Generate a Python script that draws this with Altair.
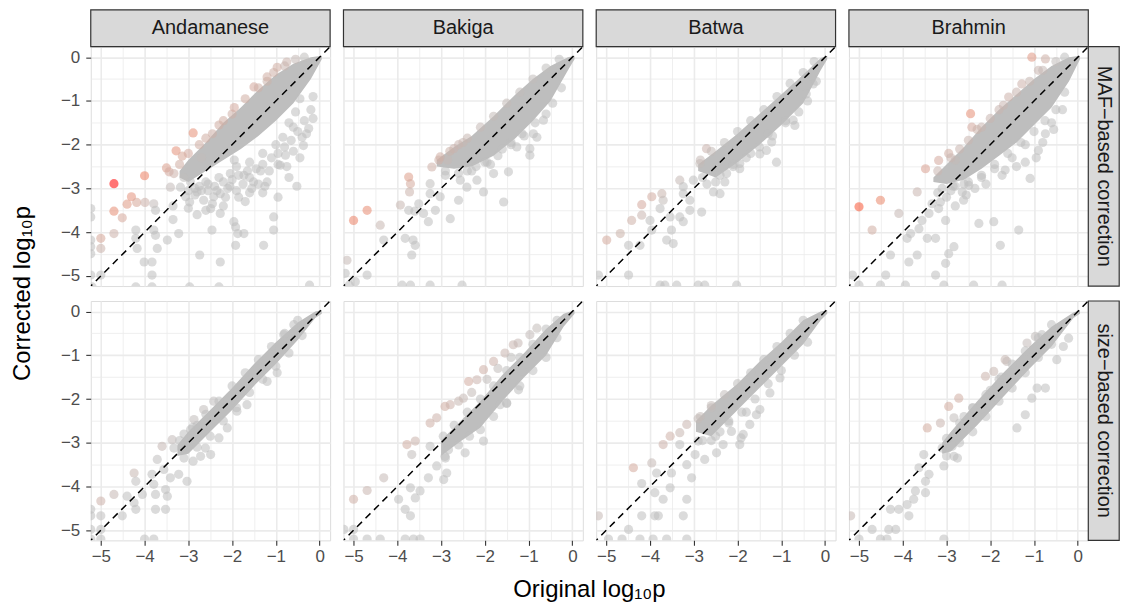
import altair as alt
import pandas as pd

populations = ["Andamanese", "Bakiga", "Batwa", "Brahmin"]
corrections = ["MAF−based correction", "size−based correction"]
x_title = "Original log₁₀p"
y_title = "Corrected log₁₀p"
tick_values = [-5.0, -4.5, -4.0, -3.5, -3.0, -2.5, -2.0, -1.5, -1.0, -0.5, 0.0]
axis_domain = [-5.23, 0.24]
diag_ends = [-5.5, 0.5]

# dense core of each cloud: (original, corrected low, corrected high)
core_maf_andamanese = [(-3.2, -2.75, -2.6), (-3.0, -2.85, -2.35), (-2.6, -2.6, -1.95), (-2.2, -2.35, -1.5),
                       (-1.8, -2.1, -1.15), (-1.4, -1.8, -0.75), (-1.0, -1.45, -0.4), (-0.6, -1.05, -0.15),
                       (-0.2, -0.5, 0.0), (0.05, -0.05, 0.03)]
core_maf_bakiga = [(-3.1, -2.5, -2.35), (-2.7, -2.55, -2.05), (-2.3, -2.5, -1.8), (-1.8, -2.25, -1.35),
                   (-1.3, -1.85, -0.85), (-0.9, -1.45, -0.5), (-0.5, -1.0, -0.2), (-0.1, -0.3, 0.0),
                   (0.05, -0.05, 0.03)]
core_maf_batwa = [(-2.9, -2.6, -2.45), (-2.5, -2.75, -2.15), (-2.0, -2.4, -1.75), (-1.5, -2.0, -1.3),
                  (-1.0, -1.55, -0.85), (-0.5, -1.05, -0.4), (-0.1, -0.3, -0.02), (0.05, -0.05, 0.03)]
core_maf_brahmin = [(-3.3, -2.85, -2.75), (-3.0, -2.9, -2.45), (-2.6, -2.8, -2.05), (-2.2, -2.55, -1.6),
                    (-1.8, -2.25, -1.2), (-1.4, -1.95, -0.85), (-1.0, -1.55, -0.5), (-0.6, -1.15, -0.2),
                    (-0.2, -0.55, 0.0), (0.05, -0.05, 0.03)]
core_size_andamanese = [(-3.25, -3.3, -3.05), (-3.0, -3.25, -2.75), (-2.5, -2.75, -2.25), (-2.0, -2.25, -1.75),
                        (-1.5, -1.7, -1.2), (-1.0, -1.2, -0.7), (-0.5, -0.65, -0.25), (-0.1, -0.15, 0.0),
                        (0.05, -0.05, 0.03)]
core_size_bakiga = [(-3.0, -3.3, -2.95), (-2.6, -3.0, -2.55), (-2.1, -2.65, -2.05), (-1.6, -2.05, -1.45),
                    (-1.1, -1.5, -0.95), (-0.6, -1.0, -0.4), (-0.2, -0.35, -0.05), (0.05, -0.05, 0.03)]
core_size_batwa = [(-2.95, -2.75, -2.5), (-2.6, -2.85, -2.15), (-2.0, -2.25, -1.65), (-1.5, -1.75, -1.15),
                   (-1.0, -1.25, -0.7), (-0.5, -0.75, -0.2), (-0.1, -0.2, 0.0), (0.05, -0.05, 0.03)]
core_size_brahmin = [(-3.1, -3.25, -3.0), (-2.9, -3.2, -2.75), (-2.3, -2.6, -2.05), (-1.7, -1.95, -1.4),
                     (-1.1, -1.3, -0.8), (-0.6, -0.8, -0.35), (-0.1, -0.15, -0.02), (0.05, -0.05, 0.03)]

# individual points: (original, corrected)
pts_maf_andamanese = [
    (-4.70, -2.89), (-4.00, -2.71), (-2.89, -1.73), (-3.28, -2.14), (-3.14, -2.26), (-3.50, -2.53),
    (-3.44, -2.62), (-3.33, -2.66), (-4.30, -3.19), (-4.40, -3.36), (-4.18, -3.32), (-3.99, -3.32),
    (-4.70, -3.52), (-4.51, -3.67), (-4.70, -4.03), (-5.00, -4.14), (-5.00, -4.37), (-5.23, -3.46),
    (-5.23, -3.65), (-5.23, -4.18), (-5.23, -4.33), (-5.23, -4.49), (-5.23, -4.98), (-5.00, -4.98),
    (-5.20, -5.25), (-4.20, -3.95), (-4.20, -4.14), (-4.17, -4.37), (-4.01, -4.68), (-3.83, -4.68),
    (-3.83, -4.98), (-3.79, -3.35), (-3.75, -3.50), (-3.79, -3.95), (-3.75, -4.07), (-3.71, -4.37),
    (-3.48, -4.18), (-3.35, -3.71), (-3.22, -4.03), (-2.74, -4.52), (-2.27, -4.68), (-2.46, -3.95),
    (-2.49, -3.46), (-2.27, -3.57), (-1.96, -3.76), (-1.92, -3.88), (-1.92, -4.30), (-1.87, -4.03),
    (-1.73, -4.03), (-1.28, -4.30), (-1.05, -3.65), (-1.05, -3.95), (-0.52, -2.95), (-0.90, -2.47),
    (-0.78, -2.24), (-0.37, -2.02), (-0.25, -1.63), (-2.97, -5.25), (-2.30, -5.25), (-4.20, -5.25),
    (-3.83, -5.25), (-0.23, -5.21), (-2.97, -3.31), (-2.80, -3.08), (-2.65, -3.27), (-2.42, -3.19),
    (-2.27, -3.12), (-2.10, -3.00), (-1.51, -2.85), (-1.20, -2.85), (-1.73, -2.70), (-2.04, -2.66),
    (-3.18, -2.97), (-3.06, -3.19), (-3.41, -2.97), (-0.84, -1.83), (-0.60, -1.60), (-0.40, -1.83),
    (-0.97, -0.23), (-1.50, -0.68), (-0.75, -0.11), (-2.60, -2.85), (-2.40, -2.95), (-1.90, -2.50),
    (-1.60, -2.40), (-1.30, -2.20), (-1.00, -2.00), (-0.70, -1.50), (-2.70, -2.30), (-2.30, -1.55),
    (-2.00, -1.30), (-1.20, -0.55), (-0.55, -1.25), (-0.45, -0.95),
    (-3.00, -3.05), (-2.85, -3.00), (-2.75, -2.95), (-2.55, -3.05), (-2.35, -3.05), (-2.20, -2.85),
    (-2.00, -2.80), (-1.85, -2.70), (-1.65, -2.60), (-1.45, -2.55), (-1.30, -2.45), (-1.10, -2.30),
    (-0.95, -2.20), (-0.80, -2.05), (-0.65, -1.90), (-0.50, -1.70), (-0.35, -1.45), (-0.20, -1.20),
    (-0.15, -0.90), (-1.60, -3.10), (-1.40, -2.90), (-1.85, -3.20), (-2.60, -3.50), (-1.95, -2.35),
    (-3.20, -2.45), (-3.00, -2.20), (-2.75, -2.00), (-2.60, -1.85), (-2.45, -1.75), (-2.20, -1.45),
    (-1.95, -1.15), (-1.70, -0.95), (-1.40, -0.70), (-1.20, -0.45), (-1.05, -0.35), (-0.80, -0.20),
    (-0.55, -0.05), (-0.35, 0.00),
    (-3.10, -2.75), (-2.95, -2.85), (-2.85, -3.15), (-2.70, -3.05), (-2.55, -2.90), (-2.45, -3.35),
    (-2.30, -2.75), (-2.15, -3.20), (-2.05, -2.95), (-1.90, -3.05), (-1.75, -2.90), (-1.60, -2.75),
    (-1.55, -3.00), (-1.35, -2.60), (-1.25, -2.95), (-1.15, -2.60), (-0.95, -2.45), (-0.75, -2.50),
    (-0.60, -2.15), (-0.45, -2.30), (-0.30, -1.75), (-0.15, -1.40), (-3.35, -3.40), (-3.00, -3.45),
    (-2.80, -3.60), (-2.20, -3.40), (-1.70, -3.30), (-1.30, -3.10), (-0.95, -3.20), (-0.70, -2.75),
]
pts_maf_bakiga = [
    (-5.00, -3.73), (-4.69, -3.50), (-4.39, -3.84), (-4.31, -4.18), (-3.93, -3.38), (-3.74, -2.74),
    (-3.70, -2.89), (-3.72, -3.08), (-3.74, -3.50), (-3.60, -3.52), (-3.82, -4.14), (-3.64, -4.18),
    (-3.59, -4.30), (-3.67, -4.52), (-3.51, -3.35), (-3.40, -3.57), (-3.29, -3.76), (-3.25, -3.12),
    (-3.25, -2.89), (-3.02, -3.19), (-3.13, -3.50), (-2.79, -3.69), (-3.21, -2.51), (-3.02, -2.28),
    (-2.71, -2.09), (-2.56, -2.81), (-2.60, -3.27), (-2.41, -2.97), (-2.18, -2.81), (-2.03, -3.08),
    (-1.57, -3.31), (-1.87, -2.45), (-1.46, -2.62), (-1.80, -2.66), (-1.27, -2.05), (-0.97, -2.09),
    (-0.97, -2.24), (-0.81, -1.83), (-0.66, -1.44), (-0.89, -1.75), (-5.15, -4.64), (-5.19, -4.94),
    (-4.69, -4.98), (-3.89, -5.21), (-3.70, -5.21), (-3.25, -5.21), (-2.52, -5.21), (-5.10, -5.21),
    (-4.96, -5.13), (-2.90, -2.70), (-2.40, -2.60), (-2.20, -2.50), (-1.95, -2.40), (-1.60, -2.10),
    (-1.40, -1.95), (-1.10, -1.80), (-2.85, -2.35), (-2.50, -1.95),
    (-3.05, -2.35), (-2.80, -2.15), (-2.60, -2.00), (-2.40, -1.85), (-2.10, -1.60), (-1.80, -1.35),
    (-1.50, -1.05), (-1.20, -0.80), (-0.90, -0.50), (-0.60, -0.25), (-0.30, -0.05), (-2.90, -2.60),
    (-2.60, -2.65), (-2.30, -2.60), (-2.00, -2.40), (-1.70, -2.25), (-1.40, -2.00), (-1.15, -1.75),
    (-0.85, -1.50), (-0.60, -1.30), (-0.45, -1.05), (-0.25, -0.70),
]
pts_maf_batwa = [
    (-4.99, -4.18), (-4.68, -4.03), (-4.42, -3.73), (-4.19, -3.37), (-4.19, -3.61), (-3.96, -3.19),
    (-3.73, -3.12), (-3.70, -3.27), (-4.49, -4.30), (-4.49, -4.98), (-4.23, -4.30), (-3.96, -3.95),
    (-4.00, -3.73), (-3.77, -3.46), (-3.62, -4.18), (-3.47, -4.26), (-3.51, -3.95), (-3.54, -3.65),
    (-3.32, -3.65), (-3.24, -3.76), (-3.09, -3.50), (-2.82, -3.54), (-3.09, -3.27), (-3.24, -3.12),
    (-3.01, -2.81), (-3.32, -2.81), (-3.24, -2.96), (-2.71, -2.09), (-2.86, -2.43), (-2.40, -3.12),
    (-2.55, -3.08), (-1.95, -2.55), (-1.95, -2.43), (-2.25, -2.66), (-2.29, -2.85), (-1.49, -2.21),
    (-1.11, -2.40), (-1.22, -1.94), (-1.34, -2.13), (-0.73, -1.44), (-0.69, -1.56), (-0.43, -0.84),
    (-0.27, -0.61), (-5.18, -4.98), (-3.77, -5.21), (-3.66, -5.21), (-3.39, -5.21), (-2.90, -5.21),
    (-2.75, -5.21), (-2.02, -5.21), (-2.70, -2.90), (-2.50, -2.85), (-2.10, -2.45), (-1.70, -2.20),
    (-1.30, -1.75), (-0.90, -1.45),
    (-2.85, -2.35), (-2.60, -2.15), (-2.30, -1.95), (-2.00, -1.70), (-1.70, -1.45), (-1.40, -1.20),
    (-1.10, -0.90), (-0.80, -0.60), (-0.50, -0.35), (-0.25, -0.10), (-2.80, -2.75), (-2.40, -2.70),
    (-2.10, -2.50), (-1.80, -2.30), (-1.50, -2.05), (-1.20, -1.80), (-0.90, -1.50), (-0.60, -1.25),
    (-0.40, -1.00), (-0.20, -0.55),
]
pts_maf_brahmin = [
    (-5.00, -3.42), (-4.51, -3.27), (-4.70, -3.95), (-4.09, -3.57), (-3.90, -4.14), (-3.82, -4.03),
    (-4.28, -4.52), (-3.86, -4.68), (-3.67, -4.52), (-3.63, -3.92), (-3.56, -3.73), (-3.44, -4.14),
    (-3.25, -4.14), (-3.40, -3.57), (-3.33, -3.35), (-3.14, -3.31), (-3.18, -3.46), (-3.02, -3.73),
    (-2.95, -4.49), (-2.83, -4.33), (-3.02, -4.71), (-3.25, -4.98), (-4.39, -4.98), (-3.67, -3.08),
    (-3.48, -2.55), (-3.18, -2.36), (-2.95, -2.20), (-2.45, -1.29), (-2.42, -1.60), (-2.61, -3.27),
    (-2.64, -3.08), (-2.49, -2.93), (-2.26, -3.80), (-1.92, -3.76), (-1.77, -4.30), (-1.73, -2.70),
    (-1.66, -2.58), (-1.35, -3.95), (-1.09, -2.77), (-0.90, -2.13), (-0.74, -1.75), (-1.58, -0.91),
    (-1.28, -0.61), (-1.05, 0.00), (-0.90, -0.30), (-0.74, -0.04), (-5.15, -4.98), (-5.00, -5.21),
    (-4.51, -5.21), (-3.94, -5.21), (-3.06, -5.21), (-2.38, -5.21), (-1.73, -5.21), (-2.85, -2.95),
    (-2.60, -2.90), (-2.20, -2.75), (-1.90, -2.55), (-1.50, -2.30), (-1.20, -2.00), (-2.80, -2.35),
    (-2.20, -1.60), (-1.80, -1.20), (-0.60, -1.50),
    (-3.20, -2.60), (-2.90, -2.30), (-2.70, -2.10), (-2.50, -1.90), (-2.30, -1.65), (-2.00, -1.40),
    (-1.70, -1.10), (-1.40, -0.80), (-1.10, -0.55), (-0.80, -0.30), (-0.50, -0.10), (-0.30, 0.00),
    (-3.10, -3.00), (-2.80, -2.95), (-2.50, -2.85), (-2.20, -2.70), (-1.90, -2.45), (-1.60, -2.20),
    (-1.30, -1.95), (-1.00, -1.70), (-0.75, -1.45), (-0.50, -1.20), (-0.30, -0.80),
    (-3.20, -3.10), (-3.00, -3.20), (-2.80, -3.40), (-2.90, -3.05), (-2.55, -3.15), (-2.35, -3.00),
    (-2.10, -2.90), (-1.40, -2.50), (-1.20, -2.40), (-0.95, -2.30), (-0.80, -1.95), (-0.55, -1.65),
    (-0.35, -1.20),
]
pts_size_andamanese = [
    (-5.23, -4.52), (-5.23, -4.67), (-5.23, -4.98), (-5.00, -4.33), (-5.00, -4.67), (-5.00, -4.98),
    (-4.70, -4.18), (-4.51, -4.67), (-4.40, -4.22), (-4.24, -4.37), (-4.20, -4.52), (-4.24, -3.69),
    (-4.20, -3.88), (-4.05, -4.18), (-3.83, -3.72), (-3.79, -3.95), (-3.75, -4.18), (-3.75, -4.52),
    (-3.52, -4.52), (-3.52, -4.07), (-3.48, -4.22), (-3.71, -3.38), (-3.56, -3.61), (-3.60, -3.08),
    (-3.37, -2.93), (-3.33, -3.12), (-3.22, -3.72), (-3.41, -3.80), (-3.03, -3.88), (-2.89, -3.42),
    (-2.72, -3.31), (-2.49, -3.27), (-2.61, -3.12), (-2.30, -2.89), (-2.11, -2.66), (-1.89, -2.28),
    (-1.66, -2.13), (-1.20, -1.60), (-0.97, -1.40), (-2.87, -2.47), (-2.65, -2.24), (-2.42, -2.05),
    (-0.82, -0.53), (-0.59, -0.30), (-5.23, -5.20), (-5.00, -5.20), (-4.00, -5.20), (-3.79, -5.20),
    (-3.10, -2.80), (-2.95, -2.70), (-2.80, -2.60),
    (-3.20, -2.95), (-2.90, -2.65), (-2.60, -2.35), (-2.30, -2.05), (-2.00, -1.70), (-1.70, -1.40),
    (-1.40, -1.10), (-1.10, -0.80), (-0.80, -0.50), (-0.50, -0.20), (-3.10, -3.35), (-2.80, -3.10),
    (-2.50, -2.85), (-2.20, -2.50), (-1.90, -2.20), (-1.60, -1.85), (-1.30, -1.55), (-1.00, -1.25),
    (-0.70, -0.95), (-0.40, -0.55),
]
pts_size_bakiga = [
    (-5.22, -4.98), (-5.00, -4.98), (-5.00, -4.29), (-4.69, -4.09), (-4.31, -3.80), (-3.97, -4.29),
    (-3.82, -4.52), (-3.70, -4.67), (-3.70, -4.03), (-3.59, -4.26), (-3.48, -4.10), (-3.78, -3.04),
    (-3.59, -2.96), (-3.67, -3.27), (-3.25, -3.08), (-3.29, -3.80), (-3.10, -3.53), (-2.94, -3.84),
    (-2.87, -3.69), (-2.91, -3.31), (-2.83, -3.16), (-2.45, -3.23), (-2.03, -2.96), (-3.25, -2.55),
    (-3.10, -2.43), (-2.91, -2.17), (-2.79, -2.13), (-2.49, -1.98), (-2.37, -1.60), (-2.18, -1.56),
    (-2.03, -1.33), (-1.80, -1.14), (-1.54, -0.95), (-1.35, -0.76), (-1.24, -0.72), (-0.97, -0.53),
    (-0.81, -0.38), (-1.65, -2.13), (-1.50, -2.09), (-1.23, -1.79), (-1.15, -1.37), (-5.00, -5.20),
    (-4.69, -5.20), (-4.39, -5.20), (-3.82, -5.20), (-3.63, -5.20), (-3.48, -5.20), (-2.60, -2.05),
    (-2.30, -1.85), (-1.95, -1.55), (-1.70, -1.30), (-1.40, -1.05),
    (-2.95, -2.85), (-2.70, -2.60), (-2.40, -2.30), (-2.10, -2.00), (-1.80, -1.70), (-1.50, -1.35),
    (-1.20, -1.05), (-0.90, -0.75), (-0.60, -0.40), (-0.35, -0.20), (-2.90, -3.35), (-2.60, -3.05),
    (-2.35, -2.85), (-2.10, -2.70), (-1.80, -2.40), (-1.50, -2.10), (-1.20, -1.70), (-0.90, -1.35),
    (-0.60, -1.05), (-0.35, -0.60),
]
pts_size_batwa = [
    (-5.18, -4.67), (-4.49, -4.98), (-4.38, -3.57), (-4.19, -3.93), (-3.96, -3.46), (-3.85, -3.69),
    (-3.89, -4.14), (-3.70, -4.29), (-4.19, -4.67), (-3.89, -4.67), (-3.81, -4.67), (-3.54, -4.03),
    (-3.51, -3.69), (-3.24, -4.67), (-3.16, -4.29), (-3.05, -3.80), (-3.16, -3.50), (-2.97, -3.27),
    (-2.75, -3.38), (-2.48, -3.23), (-2.33, -3.04), (-3.70, -3.04), (-3.54, -2.85), (-3.32, -2.77),
    (-3.16, -2.58), (-3.32, -3.04), (-2.90, -2.96), (-1.95, -3.04), (-1.92, -2.89), (-1.87, -2.81),
    (-2.14, -2.74), (-1.72, -2.58), (-1.57, -2.36), (-1.49, -2.24), (-1.26, -1.86), (-1.03, -1.52),
    (-4.95, -5.20), (-4.64, -5.20), (-4.23, -5.20), (-3.93, -5.20), (-3.62, -5.20), (-3.16, -5.20),
    (-2.60, -2.95), (-2.40, -2.75), (-2.20, -2.55), (-1.80, -2.30), (-2.85, -2.40), (-2.60, -2.20),
    (-2.90, -2.45), (-2.60, -2.15), (-2.30, -1.90), (-2.00, -1.65), (-1.70, -1.40), (-1.40, -1.10),
    (-1.10, -0.80), (-0.80, -0.50), (-0.50, -0.20), (-2.80, -2.95), (-2.50, -2.85), (-2.20, -2.50),
    (-1.90, -2.30), (-1.60, -2.00), (-1.30, -1.65), (-1.00, -1.35), (-0.70, -1.00), (-0.40, -0.70),
]
pts_size_brahmin = [
    (-5.19, -4.67), (-5.00, -5.20), (-4.70, -4.98), (-4.32, -4.98), (-4.16, -4.98), (-4.28, -4.52),
    (-4.09, -4.52), (-3.86, -4.67), (-3.90, -4.41), (-3.75, -4.29), (-3.71, -4.10), (-3.48, -4.14),
    (-3.48, -3.88), (-3.63, -3.57), (-3.40, -3.72), (-3.52, -3.27), (-3.10, -3.12), (-3.06, -3.53),
    (-2.83, -3.31), (-2.75, -3.35), (-2.87, -3.08), (-3.44, -2.66), (-3.14, -2.55), (-2.95, -2.17),
    (-2.72, -1.98), (-2.83, -2.43), (-2.11, -1.48), (-1.92, -1.37), (-1.66, -1.10), (-1.62, -1.14),
    (-1.16, -0.72), (-0.97, -0.57), (-0.82, -0.53), (-1.39, -2.66), (-1.20, -2.36), (-1.05, -1.98),
    (-0.93, -1.75), (-0.74, -1.75), (-0.48, -1.10), (-0.33, -0.80), (-0.21, -0.61), (-4.51, -5.20),
    (-4.36, -5.20), (-3.06, -5.20), (-2.60, -2.40), (-2.40, -2.20), (-2.00, -1.80), (-1.75, -1.50),
    (-3.00, -2.90), (-2.70, -2.55), (-2.40, -2.20), (-2.10, -1.90), (-1.80, -1.55), (-1.50, -1.20),
    (-1.20, -0.90), (-0.90, -0.60), (-0.60, -0.30), (-3.00, -3.30), (-2.70, -3.00), (-2.40, -2.75),
    (-2.10, -2.40), (-1.80, -2.05), (-1.50, -1.75), (-1.20, -1.40), (-0.90, -1.05), (-0.60, -0.75),
]

cores = {
    ("MAF", "Andamanese"): core_maf_andamanese, ("MAF", "Bakiga"): core_maf_bakiga,
    ("MAF", "Batwa"): core_maf_batwa, ("MAF", "Brahmin"): core_maf_brahmin,
    ("size", "Andamanese"): core_size_andamanese, ("size", "Bakiga"): core_size_bakiga,
    ("size", "Batwa"): core_size_batwa, ("size", "Brahmin"): core_size_brahmin,
}
points = {
    ("MAF", "Andamanese"): pts_maf_andamanese, ("MAF", "Bakiga"): pts_maf_bakiga,
    ("MAF", "Batwa"): pts_maf_batwa, ("MAF", "Brahmin"): pts_maf_brahmin,
    ("size", "Andamanese"): pts_size_andamanese, ("size", "Bakiga"): pts_size_bakiga,
    ("size", "Batwa"): pts_size_batwa, ("size", "Brahmin"): pts_size_brahmin,
}

FONT = "Liberation Sans"
PW, PH = 240, 240
STRIP = 37
minor_test = "datum.value % 1 !== 0"


def make_axis(show, pad):
    kw = dict(values=tick_values, grid=True, gridColor="#EBEBEB",
              gridWidth={"condition": {"test": minor_test, "value": 0.8}, "value": 1.6},
              domain=False, title="")
    if show:
        kw.update(labels=True, ticks=True, tickSize=5, tickColor="#333333", tickWidth=1.1,
                  tickOpacity={"condition": {"test": minor_test, "value": 0}, "value": 1},
                  labelExpr="datum.value % 1 === 0 ? datum.label : ''", format=".0f",
                  labelFont=FONT, labelFontSize=17, labelColor="#4D4D4D",
                  labelPadding=pad, labelFlush=False, labelOverlap=False)
    else:
        kw.update(labels=False, ticks=False)
    return alt.Axis(**kw)


def label_data(text):
    return alt.Data(values=[{"t": text}])


def panel(r, c):
    corr = ["MAF", "size"][r]
    pop = populations[c]
    xs = alt.Scale(domain=axis_domain, nice=False, zero=False)
    ys = alt.Scale(domain=axis_domain, nice=False, zero=False)
    ax_x = make_axis(r == 1, 3)
    ax_y = make_axis(c == 0, 6)
    core_df = pd.DataFrame(cores[(corr, pop)], columns=["bx", "blo", "bhi"])
    pts_df = pd.DataFrame(points[(corr, pop)], columns=["x", "y"])
    diag_df = pd.DataFrame({"dx": diag_ends, "dy": diag_ends})
    band = alt.Chart(core_df).mark_area(color="#BEBEBE", opacity=1, clip=True).encode(
        x=alt.X("bx:Q", scale=xs, axis=ax_x),
        y=alt.Y("blo:Q", scale=ys, axis=ax_y),
        y2="bhi:Q",
    )
    dots = alt.Chart(pts_df).transform_calculate(
        d="datum.x < -5.2 ? 0 : datum.y - datum.x").mark_circle(
        size=85, opacity=0.55, clip=True).encode(
        x=alt.X("x:Q", scale=xs, axis=ax_x),
        y=alt.Y("y:Q", scale=ys, axis=ax_y),
        color=alt.Color("d:Q", scale=alt.Scale(type="pow", exponent=2, domain=[0.3, 1.8],
                                                range=["#BEBEBE", "#FF0000"],
                                                clamp=True, interpolate="lab"), legend=None),
    )
    diag = alt.Chart(diag_df).mark_line(color="black", strokeDash=[7, 5], strokeWidth=1.5, clip=True).encode(
        x=alt.X("dx:Q", scale=xs, axis=ax_x),
        y=alt.Y("dy:Q", scale=ys, axis=ax_y),
    )
    layers = [band, dots, diag]
    if r == 0:
        # column strip above the panel
        layers.append(alt.Chart(label_data(pop)).mark_rect(
            fill="#D9D9D9", stroke="#333333", strokeWidth=1.2).encode(
            x=alt.value(0), x2=alt.value(PW), y=alt.value(-STRIP), y2=alt.value(0)))
        layers.append(alt.Chart(label_data(pop)).mark_text(
            font=FONT, fontSize=20, color="#1A1A1A").encode(
            text="t:N", x=alt.value(PW / 2), y=alt.value(-STRIP / 2)))
    if c == 3:
        # row strip right of the panel
        layers.append(alt.Chart(label_data(corrections[r])).mark_rect(
            fill="#D9D9D9", stroke="#333333", strokeWidth=1.2).encode(
            x=alt.value(PW), x2=alt.value(PW + 31), y=alt.value(0), y2=alt.value(PH)))
        layers.append(alt.Chart(label_data(corrections[r])).mark_text(
            font=FONT, fontSize=20, color="#1A1A1A", angle=90).encode(
            text="t:N", x=alt.value(PW + 15.5), y=alt.value(PH / 2)))
    if r == 0 and c == 0:
        # invisible anchor that fixes the page origin, and the y title
        layers.append(alt.Chart(label_data("")).mark_rect(opacity=0).encode(
            x=alt.value(-90), x2=alt.value(0), y=alt.value(-45), y2=alt.value(0)))
        layers.append(alt.Chart(label_data(y_title)).mark_text(
            font=FONT, fontSize=24, color="black", angle=270).encode(
            text="t:N", x=alt.value(-68), y=alt.value(PH + 7.5)))
    if r == 1 and c == 0:
        layers.append(alt.Chart(label_data(x_title)).mark_text(
            font=FONT, fontSize=24, color="black").encode(
            text="t:N", x=alt.value(500), y=alt.value(PH + 50)))
    return alt.layer(*layers).properties(width=PW, height=PH)


panels = [panel(r, c) for r in range(2) for c in range(4)]

chart = alt.concat(*panels, columns=4, spacing={"row": 15, "column": 13.4}, bounds="flush").properties(
    padding={"left": 0, "top": 0, "right": 0, "bottom": 0}
).configure_view(stroke="#333333", strokeWidth=1.2).configure(font=FONT)

chart.save("out.html", embed_options={"renderer": "svg", "actions": False})
